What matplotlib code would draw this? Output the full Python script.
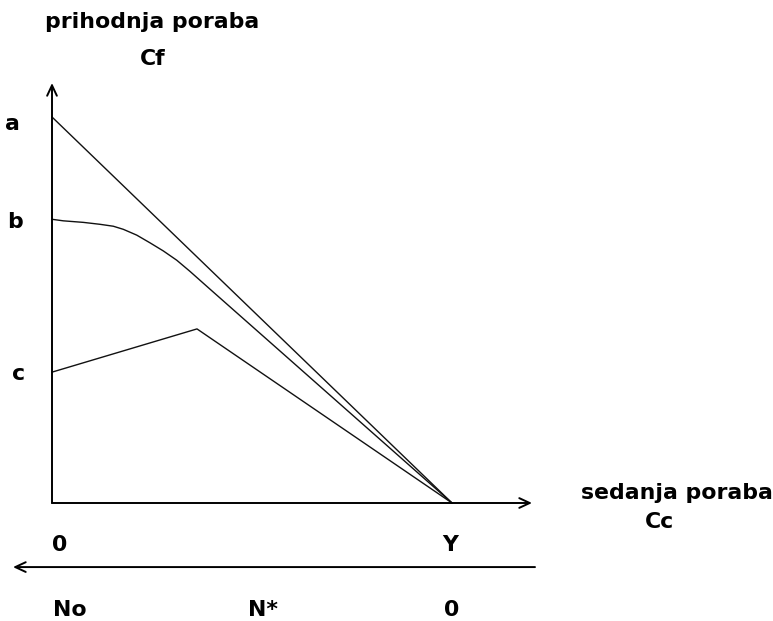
import matplotlib
matplotlib.use('Agg')
import matplotlib.pyplot as plt

# chart values (Cc on x, Cf on y); Y is the full income point on the Cc axis
y_income = 10.0

a_x = [0.0, 10.0]
a_y = [10.0, 0.0]

b_x = [0.0, 0.283, 0.783, 1.2, 1.533, 1.783, 2.118, 2.45, 2.783, 3.118,
       3.45, 3.95, 10.0]
b_y = [7.35, 7.31, 7.27, 7.22, 7.17, 7.09, 6.94, 6.74, 6.53, 6.29,
       6.0, 5.54, 0.0]

c_x = [0.0, 3.625, 10.0]
c_y = [3.39, 4.51, 0.0]

cf_axis_top = 10.88
cc_axis_end = 12.0
n_axis_left = -0.975
n_axis_right = 12.075
n_axis_y = -1.66

fig = plt.figure(figsize=(7.73, 6.21), dpi=100)
ax = fig.add_axes([0, 0, 1, 1])
ax.set_xlim(-1.3, 18.025)
ax.set_ylim(-3.057, 13.031)
ax.axis('off')

line_col = '#111111'
ax.plot(a_x, a_y, color=line_col, lw=1.0)
ax.plot(b_x, b_y, color=line_col, lw=1.0)
ax.plot(c_x, c_y, color=line_col, lw=1.0)

arrow = dict(arrowstyle='->,head_length=0.75,head_width=0.35', lw=1.4,
             color='black', shrinkA=0, shrinkB=0)
ax.annotate('', xy=(0, cf_axis_top), xytext=(0, 0), arrowprops=arrow)
ax.annotate('', xy=(cc_axis_end, 0), xytext=(0, 0), arrowprops=arrow)
ax.annotate('', xy=(n_axis_left, n_axis_y), xytext=(n_axis_right, n_axis_y),
            arrowprops=arrow)

font = dict(family='DejaVu Sans', weight='bold', fontsize=15.8,
            ha='center', va='baseline')
ax.text(2.5, 12.31, 'prihodnja poraba', **font)
ax.text(2.525, 11.35, 'Cf', **font)
ax.text(-1.0, 9.66, 'a', **font)
ax.text(-0.925, 7.12, 'b', **font)
ax.text(-0.825, 3.19, 'c', **font)
ax.text(0.2, -1.24, '0', **font)
ax.text(y_income - 0.05, -1.24, 'Y', **font)
ax.text(15.625, 0.10, 'sedanja poraba', **font)
ax.text(15.2, -0.65, 'Cc', **font)
ax.text(0.45, -2.93, 'No', **font)
ax.text(5.275, -2.93, 'N*', **font)
ax.text(y_income, -2.93, '0', **font)

fig.savefig('out.png', dpi=100, facecolor='white')
